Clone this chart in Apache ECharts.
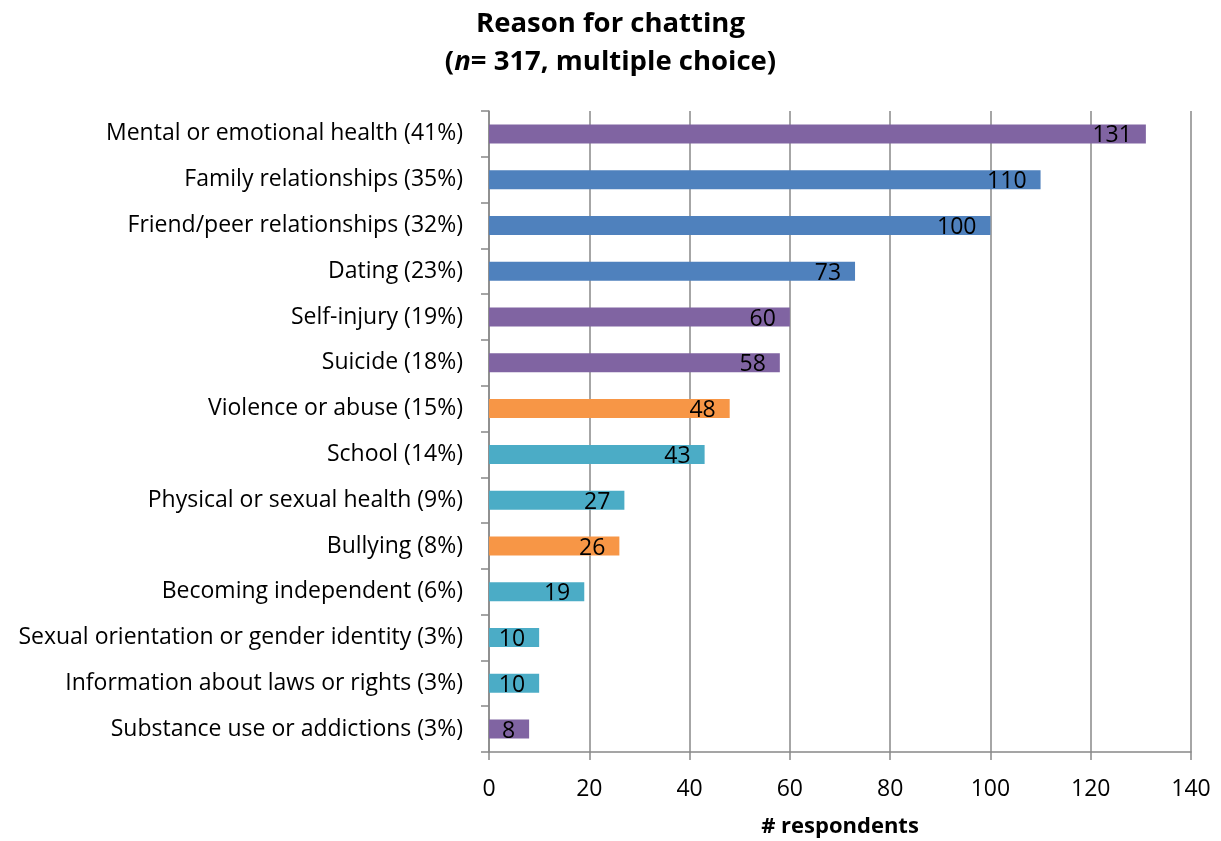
<!DOCTYPE html>
<html>
<head>
<meta charset="utf-8">
<script src="https://cdn.jsdelivr.net/npm/echarts@6/dist/echarts.min.js"></script>
<style>html,body{margin:0;padding:0;background:#fff}#c{width:1221px;height:841px}</style>
</head>
<body>
<div id="c"></div>
<script>
const categories = [
  "Mental or emotional health (41%)",
  "Family relationships (35%)",
  "Friend/peer relationships (32%)",
  "Dating (23%)",
  "Self-injury (19%)",
  "Suicide (18%)",
  "Violence or abuse (15%)",
  "School (14%)",
  "Physical or sexual health (9%)",
  "Bullying (8%)",
  "Becoming independent (6%)",
  "Sexual orientation or gender identity (3%)",
  "Information about laws or rights (3%)",
  "Substance use or addictions (3%)"
];
const values = [131, 110, 100, 73, 60, 58, 48, 43, 27, 26, 19, 10, 10, 8];
const groups = ["mental", "relationships", "relationships", "relationships", "mental", "mental", "safety", "other", "other", "safety", "other", "other", "other", "mental"];
const xTicks = [0, 20, 40, 60, 80, 100, 120, 140];

const groupColors = { mental: "#8064A2", relationships: "#4F81BD", safety: "#F79646", other: "#4BACC6" };
const FONT = "Open Sans";

const chart = echarts.init(document.getElementById('c'), null, { renderer: 'canvas' });
chart.setOption({
  animation: false,
  backgroundColor: '#fff',
  title: {
    text: '{b|Reason for chatting}\n{b|(}{i|n}{b|= 317, multiple choice)}',
    left: 'center',
    top: 0,
    textStyle: {
      rich: {
        b: { fontFamily: FONT, fontSize: 27.5, fontWeight: 'bold', color: '#000', lineHeight: 38 },
        i: { fontFamily: FONT, fontSize: 27.5, fontWeight: 'bold', fontStyle: 'italic', color: '#000', lineHeight: 38 }
      }
    }
  },
  grid: { left: 489, right: 30, top: 111, bottom: 89, containLabel: false, outerBoundsMode: 'none' },
  xAxis: {
    type: 'value',
    min: xTicks[0],
    max: xTicks[xTicks.length - 1],
    interval: xTicks[1] - xTicks[0],
    name: '# respondents',
    nameLocation: 'middle',
    nameGap: 64,
    nameTextStyle: { fontFamily: FONT, fontSize: 22, fontWeight: 'bold', color: '#000' },
    axisLine: { show: true, lineStyle: { color: '#888', width: 1.5 } },
    axisTick: { show: true, length: 8, lineStyle: { color: '#888', width: 1.5 } },
    axisLabel: { fontFamily: FONT, fontSize: 23, color: '#000', margin: 26 },
    splitLine: { show: true, lineStyle: { color: '#888', width: 1.5 } }
  },
  yAxis: {
    type: 'category',
    data: categories,
    inverse: true,
    axisLine: { show: true, lineStyle: { color: '#888', width: 1.5 } },
    axisTick: { show: true, length: 8, lineStyle: { color: '#888', width: 1.5 } },
    axisLabel: { fontFamily: FONT, fontSize: 23, color: '#000', margin: 26 }
  },
  series: [{
    type: 'bar',
    data: values.map((v, i) => ({ value: v, itemStyle: { color: groupColors[groups[i]] } })),
    barWidth: 19,
    label: {
      show: true,
      position: 'insideRight',
      distance: 14,
      offset: [0, 2],
      fontFamily: FONT,
      fontSize: 23,
      color: '#000'
    }
  }]
});
</script>
</body>
</html>
